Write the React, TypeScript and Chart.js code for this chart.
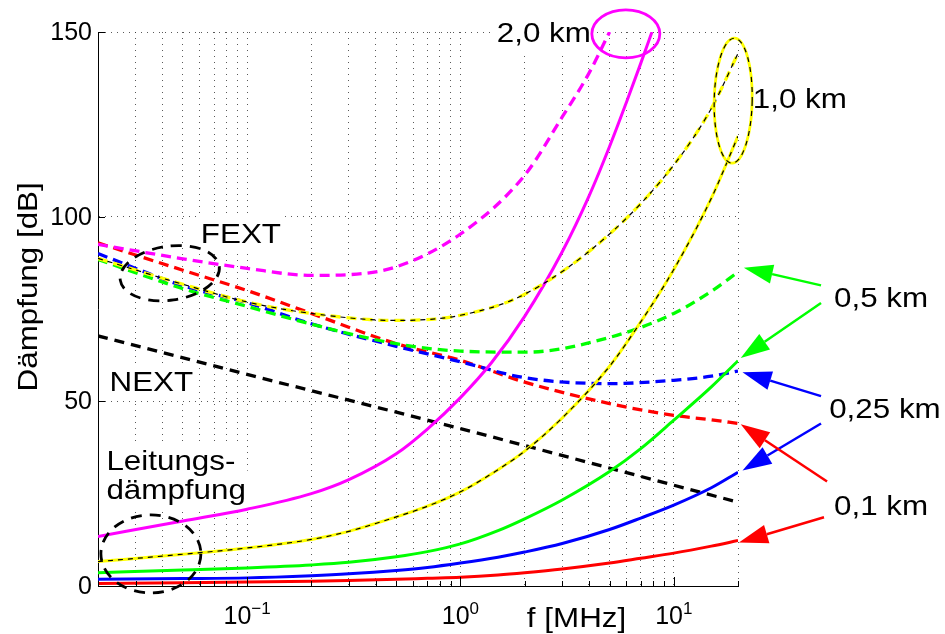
import { useEffect, useRef } from "react";
import { Chart, registerables } from "chart.js";

Chart.register(...registerables);

// ---- Leitungsdämpfung (solid), frequencies in MHz, values in dB ----
const fAtt = [0.02, 0.05, 0.1, 0.2, 0.3, 0.5, 0.7, 1, 1.5, 2, 3, 5, 7, 10, 15, 20];
const att01 = [0.7, 0.9, 1.1, 1.3, 1.5, 1.8, 2.1, 2.4, 3.0, 3.6, 4.6, 6.2, 7.5, 8.9, 10.8, 12.3];
const att025 = [1.8, 2.0, 2.2, 2.8, 3.3, 4.2, 5.0, 6.2, 7.8, 9.2, 11.5, 15.3, 18.4, 21.9, 26.6, 30.8];
const att05 = [3.6, 4.3, 4.9, 5.7, 6.4, 7.9, 9.3, 11.4, 15.0, 18.2, 23.3, 31.0, 37.2, 44.9, 53.9, 61.0];
const att10 = [6.6, 8.6, 10.3, 12.6, 14.8, 18.7, 21.6, 25.5, 31.5, 36.5, 45.5, 59.5, 71.5, 85.7, 105.0, 121.8];
const fAtt20 = [0.02, 0.05, 0.1, 0.2, 0.3, 0.5, 0.7, 1, 1.4, 2, 3, 4, 5, 6, 7, 7.9];
const att20 = [13.4, 17.6, 20.8, 25.0, 28.8, 35.8, 42.5, 51.0, 60.5, 73.0, 90.5, 105.5, 119.0, 131.0, 141.5, 150];

// ---- FEXT (dashed) ----
const fFext = [0.02, 0.05, 0.1, 0.2, 0.5, 1, 2, 5, 10, 15, 20];
const fext01 = [92.9, 85.5, 80.0, 73.8, 65.6, 61.1, 55.2, 49.4, 46.2, 45.0, 44.0];
const fext025 = [90.0, 81.3, 76.7, 71.0, 64.9, 60.7, 56.4, 54.8, 55.7, 56.8, 58.2];
const fext05 = [88.4, 80.5, 75.7, 70.9, 65.6, 63.6, 63.3, 67.3, 73.8, 79.8, 85.0];
const fext10 = [88.7, 81.7, 76.9, 73.8, 71.9, 73.3, 79.0, 95.3, 114.0, 129.3, 144.2];
const fFext20 = [0.02, 0.05, 0.1, 0.2, 0.3, 0.5, 1, 2, 3, 4, 5];
const fext20 = [92.5, 88.6, 86.0, 84.1, 84.3, 86.4, 95.3, 111.2, 127.0, 138.8, 150];

// ---- NEXT (black dashed) ----
const fNext = [0.02, 0.1, 1, 10, 20];
const next = [67.7, 57.3, 42.6, 27.3, 22.7];

// ---- axes ----
const xMin = 0.02;
const xMax = 20;
const yMin = 0;
const yMax = 150;
const yTicks = [0, 50, 100, 150];
const xGrid = [
  0.02, 0.03, 0.04, 0.05, 0.06, 0.07, 0.08, 0.09,
  0.1, 0.2, 0.3, 0.4, 0.5, 0.6, 0.7, 0.8, 0.9,
  1, 2, 3, 4, 5, 6, 7, 8, 9, 10, 20,
];
const xLabelValues = [0.1, 1, 10];
const xLabelExps = ["\u22121", "0", "1"];
const xTitle = "f [MHz]";
const yTitle = "Dämpfung [dB]";

// ---- annotations (anchored in data coordinates) ----
const texts = [
  { t: "2,0 km", f: 1.48, v: 147.3, bg: true },
  { t: "1,0 km", f: 23.45, v: 129.4, bg: false },
  { t: "FEXT", f: 0.0607, v: 92.8, bg: true },
  { t: "NEXT", f: 0.02265, v: 52.7, bg: true },
  { t: "Leitungs-", f: 0.0219, v: 31.3, bg: true },
  { t: "dämpfung", f: 0.0219, v: 23.6, bg: true },
  { t: "0,5 km", f: 56.4, v: 75.5, bg: false },
  { t: "0,25 km", f: 53.5, v: 45.4, bg: false },
  { t: "0,1 km", f: 56.4, v: 19.1, bg: false },
];
const arrows = [
  { f1: 49.0, v1: 81.4, f2: 21.3, v2: 86.2, c: "#00ff00" },
  { f1: 49.0, v1: 76.6, f2: 20.6, v2: 61.7, c: "#00ff00" },
  { f1: 49.0, v1: 51.4, f2: 21.0, v2: 57.9, c: "#0000ff" },
  { f1: 49.0, v1: 44.0, f2: 21.0, v2: 31.3, c: "#0000ff" },
  { f1: 52.3, v1: 28.3, f2: 20.6, v2: 43.8, c: "#ff0000" },
  { f1: 50.6, v1: 18.6, f2: 20.2, v2: 11.8, c: "#ff0000" },
];
const ellipses = [
  { f: 0.0434, v: 84.7, rx: 50, ry: 27, rot: -0.14, kind: "blackdash" },
  { f: 0.0354, v: 8.7, rx: 50, ry: 39, rot: 0, kind: "blackdash" },
  { f: 5.96, v: 149.5, rx: 34, ry: 24, rot: 0, kind: "magenta" },
  { f: 18.99, v: 131.4, rx: 19, ry: 62.5, rot: 0.02, kind: "yellow" },
];

const FONT = '"Liberation Sans", Arial, Helvetica, sans-serif';
const LABEL_SIZE = 28;
const LABEL_STRETCH = 1.12;
const TICK_SIZE = 25;

function stretchedText(ctx: CanvasRenderingContext2D, text: string, x: number, y: number, rot = 0, align: CanvasTextAlign = "left") {
  ctx.save();
  ctx.translate(x, y);
  if (rot) ctx.rotate(rot);
  ctx.scale(LABEL_STRETCH, 1);
  ctx.font = `${LABEL_SIZE}px ${FONT}`;
  ctx.fillStyle = "#000";
  ctx.textAlign = align;
  ctx.textBaseline = "alphabetic";
  ctx.fillText(text, 0, 0);
  ctx.restore();
}

const annotPlugin = {
  id: "annot",
  beforeDatasetsDraw(chart: any) {
    const ctx: CanvasRenderingContext2D = chart.ctx;
    const xs = chart.scales.x;
    const ys = chart.scales.y;
    ctx.save();
    ctx.font = `${LABEL_SIZE}px ${FONT}`;
    ctx.fillStyle = "#fff";
    for (const t of texts) {
      if (!t.bg) continue;
      const x = xs.getPixelForValue(t.f);
      const y = ys.getPixelForValue(t.v);
      const w = ctx.measureText(t.t).width * LABEL_STRETCH;
      ctx.fillRect(x - 3, y - LABEL_SIZE * 0.9 - 3, w + 6, LABEL_SIZE * 1.12 + 6);
    }
    ctx.restore();
  },
  afterDatasetsDraw(chart: any) {
    const ctx: CanvasRenderingContext2D = chart.ctx;
    const xs = chart.scales.x;
    const ys = chart.scales.y;
    const area = chart.chartArea;

    // inner tick marks
    ctx.save();
    ctx.strokeStyle = "#000";
    ctx.lineWidth = 1;
    for (const g of xGrid) {
      const x = Math.round(xs.getPixelForValue(g)) + 0.5;
      const len = xLabelValues.includes(g) ? 9 : 5;
      ctx.beginPath();
      ctx.moveTo(x, area.bottom);
      ctx.lineTo(x, area.bottom - len);
      ctx.stroke();
    }
    for (const v of yTicks) {
      const y = Math.round(ys.getPixelForValue(v)) + 0.5;
      ctx.beginPath();
      ctx.moveTo(area.left, y);
      ctx.lineTo(area.left + 7, y);
      ctx.stroke();
    }
    ctx.restore();

    // y tick labels
    ctx.save();
    ctx.fillStyle = "#000";
    ctx.font = `${TICK_SIZE}px ${FONT}`;
    ctx.textAlign = "right";
    ctx.textBaseline = "middle";
    for (const v of yTicks) {
      ctx.fillText(String(v), area.left - 6, ys.getPixelForValue(v) + 1);
    }
    // x tick labels 10^n
    ctx.textBaseline = "alphabetic";
    ctx.textAlign = "left";
    xLabelValues.forEach((f, i) => {
      const x = xs.getPixelForValue(f);
      ctx.font = `${TICK_SIZE}px ${FONT}`;
      const wb = ctx.measureText("10").width;
      ctx.font = `17px ${FONT}`;
      const we = ctx.measureText(xLabelExps[i]).width;
      const x0 = x - (wb + we) / 2;
      const yb = area.bottom + 38;
      ctx.font = `${TICK_SIZE}px ${FONT}`;
      ctx.fillText("10", x0, yb);
      ctx.font = `17px ${FONT}`;
      ctx.fillText(xLabelExps[i], x0 + wb, yb - 10);
    });
    ctx.restore();

    // axis titles
    stretchedText(ctx, xTitle, xs.getPixelForValue(3.5), area.bottom + 41, 0, "center");
    stretchedText(ctx, yTitle, area.left - 61, ys.getPixelForValue(81), -Math.PI / 2, "center");

    // annotation texts
    for (const t of texts) {
      stretchedText(ctx, t.t, xs.getPixelForValue(t.f), ys.getPixelForValue(t.v));
    }

    // ellipses
    for (const e of ellipses) {
      const cx = xs.getPixelForValue(e.f);
      const cy = ys.getPixelForValue(e.v);
      ctx.save();
      ctx.beginPath();
      ctx.ellipse(cx, cy, e.rx, e.ry, e.rot, 0, Math.PI * 2);
      if (e.kind === "blackdash") {
        ctx.setLineDash([11, 8]);
        ctx.strokeStyle = "#000";
        ctx.lineWidth = 2.8;
        ctx.stroke();
      } else if (e.kind === "magenta") {
        ctx.strokeStyle = "#ff00ff";
        ctx.lineWidth = 2.8;
        ctx.stroke();
      } else {
        ctx.strokeStyle = "#ffff00";
        ctx.lineWidth = 2.8;
        ctx.stroke();
        ctx.setLineDash([5, 5]);
        ctx.strokeStyle = "#000";
        ctx.lineWidth = 1.2;
        ctx.stroke();
      }
      ctx.restore();
    }

    // arrows
    for (const a of arrows) {
      const x1 = xs.getPixelForValue(a.f1);
      const y1 = ys.getPixelForValue(a.v1);
      const x2 = xs.getPixelForValue(a.f2);
      const y2 = ys.getPixelForValue(a.v2);
      const ang = Math.atan2(y2 - y1, x2 - x1);
      const L = 29;
      const W = 9.5;
      const bx = x2 - L * Math.cos(ang);
      const by = y2 - L * Math.sin(ang);
      ctx.save();
      ctx.strokeStyle = a.c;
      ctx.fillStyle = a.c;
      ctx.lineWidth = 2.5;
      ctx.beginPath();
      ctx.moveTo(x1, y1);
      ctx.lineTo(bx, by);
      ctx.stroke();
      ctx.beginPath();
      ctx.moveTo(x2, y2);
      ctx.lineTo(bx + W * Math.sin(ang), by - W * Math.cos(ang));
      ctx.lineTo(bx - W * Math.sin(ang), by + W * Math.cos(ang));
      ctx.closePath();
      ctx.fill();
      ctx.restore();
    }
  },
};

function pts(fs: number[], vs: number[]) {
  return fs.map((f, i) => ({ x: f, y: vs[i] }));
}

function line(label: string, fs: number[], vs: number[], color: string, width: number, dash: number[] = []) {
  return {
    label,
    data: pts(fs, vs),
    borderColor: color,
    backgroundColor: color,
    borderWidth: width,
    borderDash: dash,
    pointRadius: 0,
    pointHoverRadius: 0,
    showLine: true,
    fill: false,
    cubicInterpolationMode: "monotone" as const,
  };
}

export default function App() {
  const ref = useRef<HTMLCanvasElement>(null);

  useEffect(() => {
    const canvas = ref.current;
    if (!canvas) return;
    const datasets: any[] = [
      line("1,0 km Overlay", fAtt, att10, "#000000", 1.2, [5, 5]),
      line("FEXT 1,0 km Overlay", fFext, fext10, "#000000", 1.2, [5, 5]),
      line("Leitungsdämpfung 1,0 km", fAtt, att10, "#ffff00", 3),
      line("FEXT 1,0 km", fFext, fext10, "#ffff00", 3.3, [10, 6]),
      line("Leitungsdämpfung 2,0 km", fAtt20, att20, "#ff00ff", 3),
      line("Leitungsdämpfung 0,5 km", fAtt, att05, "#00ff00", 3),
      line("Leitungsdämpfung 0,25 km", fAtt, att025, "#0000ff", 3),
      line("Leitungsdämpfung 0,1 km", fAtt, att01, "#ff0000", 3),
      line("FEXT 2,0 km", fFext20, fext20, "#ff00ff", 3.3, [10, 6]),
      line("FEXT 0,5 km", fFext, fext05, "#00ff00", 3.3, [10, 6]),
      line("FEXT 0,25 km", fFext, fext025, "#0000ff", 3.3, [10, 6]),
      line("FEXT 0,1 km", fFext, fext01, "#ff0000", 3.3, [10, 6]),
      line("NEXT", fNext, next, "#000000", 3.3, [10, 7]),
    ];

    const gridColor = "rgba(60,60,60,0.85)";
    const chart = new Chart(canvas, {
      type: "scatter",
      data: { datasets },
      options: {
        animation: false,
        responsive: false,
        devicePixelRatio: 1,
        events: [],
        layout: { padding: { left: 98, top: 32, right: 207, bottom: 48 } },
        plugins: {
          legend: { display: false },
          tooltip: { enabled: false },
          title: { display: false },
        },
        scales: {
          x: {
            type: "logarithmic",
            min: xMin,
            max: xMax,
            afterBuildTicks: (s: any) => {
              s.ticks = xGrid.map((v) => ({ value: v, major: xLabelValues.includes(v) }));
            },
            ticks: { display: false, autoSkip: false },
            grid: { color: gridColor, lineWidth: 1, drawTicks: false, drawOnChartArea: true },
            border: { display: true, color: "#000", width: 1, dash: [1, 5] },
          },
          y: {
            type: "linear",
            min: yMin,
            max: yMax,
            afterBuildTicks: (s: any) => {
              s.ticks = yTicks.map((v) => ({ value: v }));
            },
            ticks: { display: false },
            grid: { color: gridColor, lineWidth: 1, drawTicks: false },
            border: { display: true, color: "#000", width: 1, dash: [1, 5] },
          },
        },
      } as any,
      plugins: [annotPlugin],
    });
    return () => chart.destroy();
  }, []);

  return (
    <div style={{ position: "absolute", left: 0, top: 0, background: "#fff" }}>
      <canvas ref={ref} width={945} height={634} style={{ display: "block", width: 945, height: 634 }} />
    </div>
  );
}
